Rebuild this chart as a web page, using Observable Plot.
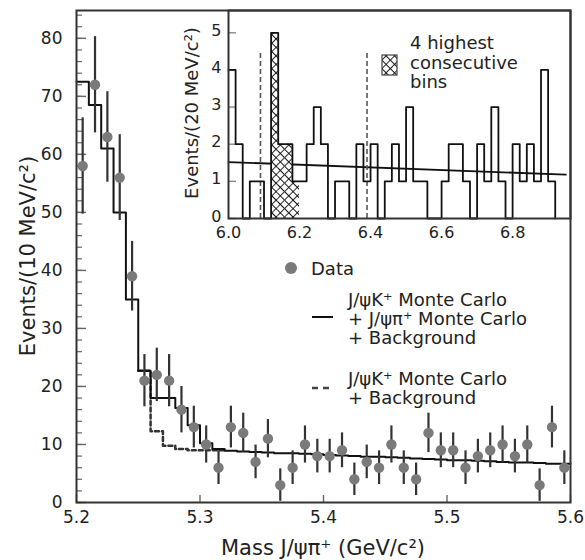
<!DOCTYPE html>
<html><head><meta charset="utf-8">
<script src="https://cdn.jsdelivr.net/npm/d3@7"></script>
<script src="https://cdn.jsdelivr.net/npm/@observablehq/plot@0.6"></script>
<style>
body{margin:0;background:#fff;}
#wrap{position:relative;width:585px;height:560px;font-family:"DejaVu Sans",sans-serif;color:#222;overflow:hidden;}
#wrap svg{position:absolute;}
.t{position:absolute;white-space:nowrap;}
.lg{position:absolute;font-size:18px;line-height:19px;white-space:nowrap;color:#222;}
</style></head><body><div id="wrap"></div>
<script>
// ---------- main plot data: J/psi pi+ mass, 10 MeV bins ----------
const massBins = [5.205,5.215,5.225,5.235,5.245,5.255,5.265,5.275,5.285,5.295,5.305,5.315,5.325,5.335,5.345,5.355,5.365,5.375,5.385,5.395,5.405,5.415,5.425,5.435,5.445,5.455,5.465,5.475,5.485,5.495,5.505,5.515,5.525,5.535,5.545,5.555,5.565,5.575,5.585,5.595];
const dataCounts = [58,72,63,56,39,21,22,21,16,13,10,6,13,12,7,11,3,6,10,8,8,9,4,7,6,10,6,4,12,9,9,6,8,9,10,8,10,3,13,6];
const dataErrors = [8.3,8.3,7.8,7.4,6.0,4.5,4.6,4.5,4.0,3.6,3.2,2.9,3.6,3.4,2.9,3.3,2.8,2.9,3.2,2.9,2.9,3.0,2.8,2.9,2.9,3.2,2.9,2.8,3.4,3.0,3.0,2.9,2.9,3.0,3.2,2.9,3.2,2.8,3.6,2.9];
// MC histogram (J/psi K + J/psi pi + background), lower bin edges + closing edge
const mcEdges = [5.20,5.21,5.22,5.23,5.24,5.25,5.26,5.27,5.28,5.29,5.30,5.31,5.32,5.33,5.34,5.35,5.36,5.37,5.38,5.39,5.40,5.41,5.42,5.43,5.44,5.45,5.46,5.47,5.48,5.49,5.50,5.51,5.52,5.53,5.54,5.55,5.56,5.57,5.58,5.59,5.60];
const mcTotal = [72.5,68.5,61,50,35,22.7,18,18,16.3,13.3,10.2,9.2,8.9,8.8,8.7,8.6,8.5,8.5,8.4,8.3,8.2,8.1,8.0,7.9,7.9,7.8,7.7,7.6,7.5,7.4,7.3,7.3,7.2,7.1,7.0,6.9,6.9,6.8,6.7,6.7,6.7];
// J/psi K MC + background (only where it differs from the total)
const kEdges = [5.25,5.26,5.27,5.28,5.29,5.30,5.31,5.32];
const kOnly = [22.7,12.3,9.8,9.2,9.0,9.0,9.0,8.9];
// axis ticks
const yTicks = [0,10,20,30,40,50,60,70,80];
const xTicks = [5.2,5.3,5.4,5.5,5.6];

// ---------- inset data: 20 MeV bins ----------
const insetEdges = [6.00,6.02,6.04,6.06,6.08,6.10,6.12,6.14,6.16,6.18,6.20,6.22,6.24,6.26,6.28,6.30,6.32,6.34,6.36,6.38,6.40,6.42,6.44,6.46,6.48,6.50,6.52,6.54,6.56,6.58,6.60,6.62,6.64,6.66,6.68,6.70,6.72,6.74,6.76,6.78,6.80,6.82,6.84,6.86,6.88,6.90,6.92];
const insetCounts = [4,2,0,1,1,0,5,2,2,1,1,2,3,2,0,1,1,0,2,1,2,0,1,2,1,3,1,1,0,0,1,2,2,1,0,2,1,3,1,0,2,1,2,1,4,1,0];
const hatchLo = [6.12,6.14,6.16,6.18];
const hatchHi = [6.14,6.16,6.18,6.20];
const hatchCounts = [5,2,2,1];
const fitX = [6.00,6.95];
const fitY = [1.52,1.18];
const windowX = [6.09,6.39];
const windowTop = 4.5;
const insetYTicks = [0,1,2,3,4,5];
const insetXTicks = [6.0,6.2,6.4,6.6,6.8];

// ---------- build tables ----------
const points = massBins.map((m,i)=>({m, n:dataCounts[i], e:dataErrors[i]}));
const mcLine = mcEdges.map((m,i)=>({m, v:mcTotal[i]}));
const kLine = kEdges.map((m,i)=>({m, v:kOnly[i]}));
const outline = insetEdges.map((m,i)=>({m, v:insetCounts[i]}));
const hatch = hatchLo.map((lo,i)=>({lo, hi:hatchHi[i], n:hatchCounts[i]}));
const fit = fitX.map((m,i)=>({m, v:fitY[i]}));
const yMinor = d3.range(0, 85, 2);

const font = "DejaVu Sans, sans-serif";
const wrap = document.getElementById("wrap");

// main frame: 494 x 492 px
const main = Plot.plot({
  width: 585, height: 560,
  marginTop: 10, marginLeft: 76, marginRight: 15, marginBottom: 58,
  x: {domain: [5.2, 5.6], label: null},
  y: {domain: [0, 84.8], label: null},
  style: {fontFamily: font, fontSize: "17px", color: "#222", background: "transparent"},
  marks: [
    Plot.tickY(yMinor, {y: d => d, insetRight: 488, stroke: "#666", strokeWidth: 1.2}),
    Plot.tickY(yTicks, {y: d => d, insetRight: 484, stroke: "#666", strokeWidth: 1.4}),
    Plot.tickX(xTicks, {x: d => d, insetTop: 485, stroke: "#666", strokeWidth: 1.4}),
    Plot.axisY(yTicks, {tickSize: 0, tickPadding: 14, label: null}),
    Plot.axisX(xTicks, {tickSize: 0, tickPadding: 8, tickFormat: d3.format(".1f"), label: null}),
    Plot.line(kLine, {x: "m", y: "v", curve: "step-after", stroke: "#333", strokeWidth: 2.5, strokeDasharray: "4,3"}),
    Plot.line(mcLine, {x: "m", y: "v", curve: "step-after", stroke: "#111", strokeWidth: 2}),
    Plot.ruleX(points, {x: "m", y1: d => d.n - d.e, y2: d => d.n + d.e, stroke: "#333", strokeWidth: 2.2}),
    Plot.dot(points, {x: "m", y: "n", r: 5.2, fill: "#7a7a7a", stroke: "none"}),
    Plot.frame({stroke: "#333", strokeWidth: 2})
  ]
});
main.style.left = "0px"; main.style.top = "0px";
wrap.appendChild(main);

// inset frame: 342 x 208 px
const inset = Plot.plot({
  width: 400, height: 245,
  marginTop: 10, marginLeft: 58, marginRight: 0, marginBottom: 27,
  x: {domain: [6.0, 6.963], label: null},
  y: {domain: [0, 5.6], label: null},
  style: {fontFamily: font, fontSize: "16px", color: "#222", background: "transparent", overflow: "visible"},
  marks: [
    Plot.tickY(insetYTicks, {y: d => d, insetRight: 334, stroke: "#888", strokeWidth: 1.4}),
    Plot.axisY(insetYTicks, {tickSize: 0, tickPadding: 7, dy: -2, label: null}),
    Plot.axisX(insetXTicks, {tickSize: 0, tickPadding: 8, tickFormat: d3.format(".1f"), label: null}),
    Plot.line(fit, {x: "m", y: "v", stroke: "#111", strokeWidth: 1.8}),
    Plot.ruleX(windowX, {x: d => d, y1: 0, y2: windowTop, stroke: "#555", strokeWidth: 1.6, strokeDasharray: "5,3"}),
    Plot.rectY(hatch, {x1: "lo", x2: "hi", y: "n", fill: "url(#xhatch)", stroke: "none"}),
    Plot.line(outline, {x: "m", y: "v", curve: "step-after", stroke: "#111", strokeWidth: 1.8}),
    Plot.frame({stroke: "#333", strokeWidth: 2})
  ]
});
inset.style.left = "170px"; inset.style.top = "0px";
wrap.appendChild(inset);

function addPattern(svg, id) {
  const defs = d3.select(svg).insert("defs", ":first-child");
  const p = defs.append("pattern").attr("id", id).attr("patternUnits", "userSpaceOnUse")
    .attr("width", 6).attr("height", 6).attr("patternTransform", "rotate(45)");
  p.append("rect").attr("width", 6).attr("height", 6).attr("fill", "white");
  p.append("path").attr("d", "M0,0V6M0,0H6").attr("stroke", "#111").attr("stroke-width", 1.8);
}
addPattern(inset, "xhatch");

// ---------- titles ----------
function addText(html, css) {
  const d = document.createElement("div");
  d.className = "t"; d.innerHTML = html; d.style.cssText += css;
  wrap.appendChild(d);
  return d;
}
addText("Events/(10 MeV/c²)", "left:28px;top:256px;font-size:21px;transform:translate(-50%,-50%) rotate(-90deg);");
addText("Mass J/ψπ⁺ (GeV/c²)", "left:323px;top:548px;font-size:21px;transform:translate(-50%,-50%);");
addText("Events/(20 MeV/c²)", "left:191px;top:113px;font-size:18px;transform:translate(-50%,-50%) rotate(-90deg);");

// ---------- legend swatches ----------
const legSvg = d3.select(wrap).append("svg").attr("width", 585).attr("height", 560).style("left", "0px").style("top", "0px").style("pointer-events", "none");
addPattern(legSvg.node(), "xhatch2");
legSvg.append("rect").attr("x", 382).attr("y", 55).attr("width", 15).attr("height", 20).attr("fill", "url(#xhatch2)").attr("stroke", "#444").attr("stroke-width", 1.2);
legSvg.append("circle").attr("cx", 291).attr("cy", 268).attr("r", 6).attr("fill", "#7a7a7a");
legSvg.append("line").attr("x1", 312).attr("x2", 333).attr("y1", 317).attr("y2", 317).attr("stroke", "#111").attr("stroke-width", 2);
legSvg.append("line").attr("x1", 312).attr("x2", 331).attr("y1", 388).attr("y2", 388).attr("stroke", "#444").attr("stroke-width", 2.5).attr("stroke-dasharray", "6,5");

function leg(html, x, yc) {
  const d = document.createElement("div");
  d.className = "lg"; d.innerHTML = html;
  d.style.left = x + "px"; d.style.top = (yc - 9.5) + "px";
  wrap.appendChild(d);
}
leg("4 highest", 410, 42);
leg("consecutive", 410, 62);
leg("bins", 410, 81);
leg("Data", 311, 268);
leg("J/ψK⁺ Monte Carlo", 348, 299);
leg("+ J/ψπ⁺ Monte Carlo", 348, 318);
leg("+ Background", 348, 337);
leg("J/ψK⁺ Monte Carlo", 348, 378);
leg("+ Background", 348, 397);
</script></body></html>
